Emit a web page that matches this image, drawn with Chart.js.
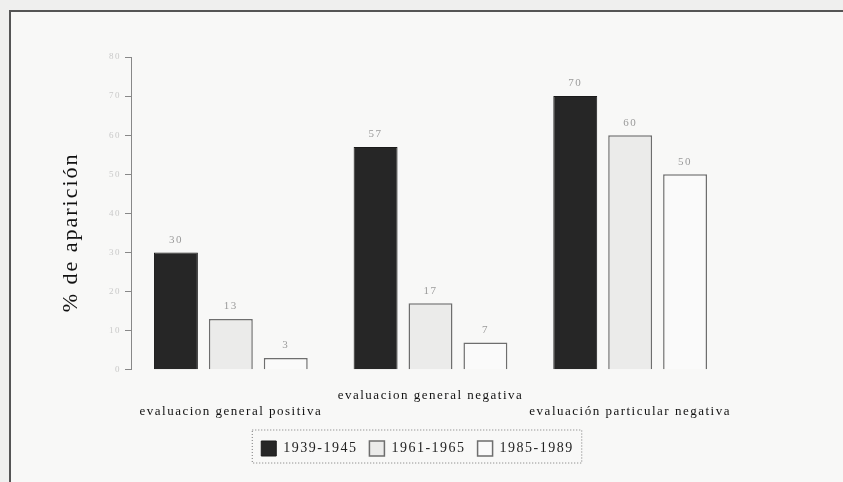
<!DOCTYPE html>
<html lang="es">
<head>
<meta charset="UTF-8">
<title>% de aparición</title>
<script src="https://cdn.jsdelivr.net/npm/chart.js@4.4.1/dist/chart.umd.min.js"></script>
<style>
    body {
        margin: 0;
        padding: 0;
        background: #efefee;
        overflow: hidden;
    }
    .frame {
        position: absolute;
        left: 9px;
        top: 10px;
        width: 900px;
        height: 500px;
        background: #f8f8f7;
        border-left: 2px solid #555;
        border-top: 2px solid #555;
    }
    .wrap {
        position: absolute;
        left: 0;
        top: 0;
        width: 843px;
        height: 482px;
    }
</style>
</head>
<body>
<div class="frame"></div>
<div class="wrap"><canvas id="chart"></canvas></div>
<script>
    const categories = [
        ['', 'evaluacion general positiva'],
        ['evaluacion general negativa', ''],
        ['', 'evaluación particular negativa']
    ];
    const periods = ['1939-1945', '1961-1965', '1985-1989'];
    const values1939 = [30, 57, 70];
    const values1961 = [13, 17, 60];
    const values1985 = [3, 7, 50];
    const yTicks = [0, 10, 20, 30, 40, 50, 60, 70, 80];
    const yTitle = '% de aparición';

    const serif = "'Liberation Serif', 'DejaVu Serif', serif";

    // value labels above each bar
    const barValues = {
        id: 'barValues',
        afterDatasetsDraw(chart) {
            const ctx = chart.ctx;
            ctx.save();
            ctx.font = '11px ' + serif;
            ctx.fillStyle = '#9a9a9a';
            ctx.textAlign = 'center';
            ctx.textBaseline = 'bottom';
            chart.data.datasets.forEach((ds, i) => {
                chart.getDatasetMeta(i).data.forEach((bar, j) => {
                    ctx.fillText(ds.data[j], bar.x, bar.y - 7);
                });
            });
            ctx.restore();
        }
    };

    // y title, set a bit below the axis middle as in the scan
    const sideTitle = {
        id: 'sideTitle',
        afterDraw(chart) {
            const ctx = chart.ctx;
            const a = chart.chartArea;
            ctx.save();
            ctx.letterSpacing = '2px';
            ctx.font = '22px ' + serif;
            ctx.fillStyle = '#111';
            ctx.textAlign = 'center';
            ctx.textBaseline = 'middle';
            ctx.translate(a.left - 60, (a.top + a.bottom) / 2 + 19);
            ctx.rotate(-Math.PI / 2);
            ctx.fillText(yTitle, 0, 0);
            ctx.restore();
        }
    };

    // dotted box round the legend
    const legendBox = {
        id: 'legendBox',
        afterDraw(chart) {
            const boxes = chart.legend.legendHitBoxes;
            if (!boxes || !boxes.length) return;
            let l = Infinity, r = -Infinity, t = Infinity, b = -Infinity;
            boxes.forEach(h => {
                l = Math.min(l, h.left); r = Math.max(r, h.left + h.width);
                t = Math.min(t, h.top); b = Math.max(b, h.top + h.height);
            });
            const ctx = chart.ctx;
            ctx.save();
            ctx.strokeStyle = '#777';
            ctx.lineWidth = 1;
            ctx.setLineDash([1, 2]);
            ctx.strokeRect(l - 9, t - 11, r - l + 17, b - t + 18);
            ctx.restore();
        }
    };

    // the scan's lettering is widely spaced
    const spacing = {
        id: 'spacing',
        beforeLayout(chart) { chart.ctx.letterSpacing = '1.5px'; },
        beforeDraw(chart) { chart.ctx.letterSpacing = '1.5px'; }
    };

    new Chart(document.getElementById('chart'), {
        type: 'bar',
        data: {
            labels: categories,
            datasets: [
                { label: periods[0], data: values1939, backgroundColor: '#262626', borderColor: '#1a1a1a', borderWidth: 1 },
                { label: periods[1], data: values1961, backgroundColor: '#ebebea', borderColor: '#6e6e6e', borderWidth: 1.5 },
                { label: periods[2], data: values1985, backgroundColor: '#fafafa', borderColor: '#6e6e6e', borderWidth: 1.5 }
            ]
        },
        options: {
            responsive: true,
            maintainAspectRatio: false,
            animation: false,
            categoryPercentage: 0.825,
            barPercentage: 0.8,
            layout: { padding: { left: 105, right: 113, top: 57, bottom: 16 } },
            plugins: {
                tooltip: { enabled: false },
                legend: {
                    position: 'bottom',
                    labels: {
                        boxWidth: 15,
                        boxHeight: 15,
                        color: '#222',
                        font: { family: serif, size: 14 },
                        padding: 12
                    }
                }
            },
            scales: {
                x: {
                    grid: { display: false },
                    border: { display: false },
                    ticks: {
                        color: '#111',
                        font: { family: serif, size: 13 },
                        maxRotation: 0,
                        autoSkip: false,
                        padding: 10
                    }
                },
                y: {
                    min: 0,
                    max: 80,
                    afterBuildTicks(axis) { axis.ticks = yTicks.map(v => ({ value: v })); },
                    grid: { drawOnChartArea: false, tickLength: 6, color: '#888' },
                    border: { display: true, color: '#888', width: 1 },
                    ticks: {
                        color: '#c9c9c9',
                        font: { family: serif, size: 9 },
                        padding: 4
                    }
                }
            }
        },
        plugins: [spacing, barValues, sideTitle, legendBox]
    });
</script>
</body>
</html>
